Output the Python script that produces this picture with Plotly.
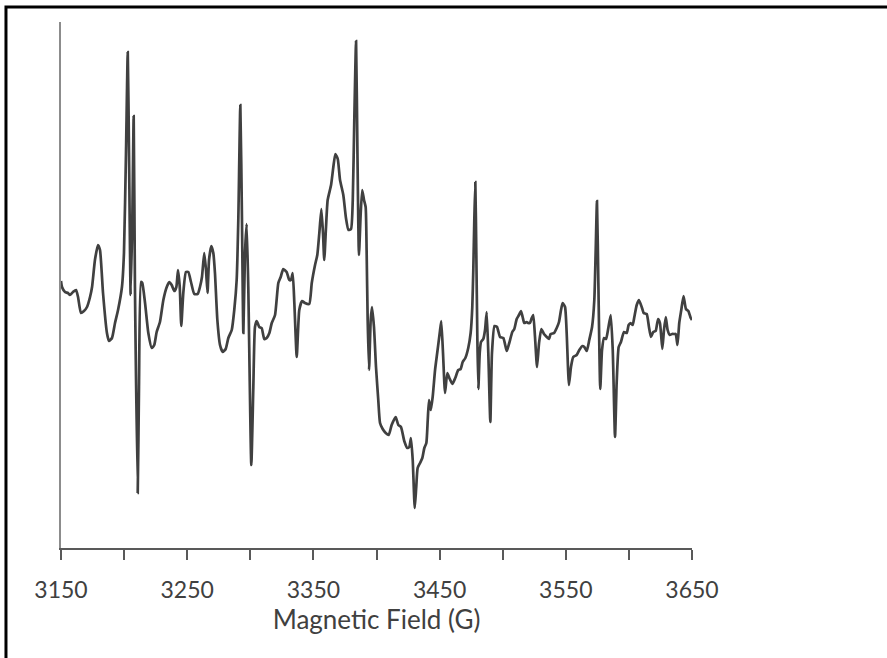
import plotly.graph_objects as go

# Magnetic field (G) and EPR signal (arbitrary units)
field = [3150.0, 3150.8, 3153.2, 3155.5, 3157.1, 3159.5, 3161.9, 3163.5, 3165.8, 3168.2,
         3170.6, 3173.0, 3174.6, 3176.9, 3179.3, 3180.9, 3183.3, 3186.4, 3188.0, 3190.4,
         3192.8, 3195.2, 3198.3, 3199.9, 3201.5, 3202.9, 3203.9, 3205.2, 3206.5, 3207.6,
         3208.6, 3210.8, 3211.8, 3213.4, 3214.4, 3216.6, 3219.2, 3221.9, 3223.9, 3225.8,
         3228.4, 3231.1, 3233.8, 3235.8, 3237.7, 3239.8, 3241.4, 3242.7, 3244.1, 3245.3,
         3246.9, 3249.0, 3250.9, 3253.0, 3255.6, 3258.3, 3260.1, 3261.7, 3263.5, 3264.9,
         3266.1, 3267.3, 3269.1, 3270.7, 3272.0, 3273.9, 3276.0, 3278.1, 3280.5, 3282.6,
         3285.3, 3287.3, 3289.2, 3290.5, 3292.1, 3293.4, 3294.5, 3295.8, 3297.1, 3298.4,
         3300.8, 3302.4, 3303.7, 3305.1, 3307.1, 3309.0, 3311.1, 3313.0, 3315.1, 3317.0,
         3319.6, 3322.2, 3324.1, 3326.1, 3328.8, 3330.9, 3332.2, 3333.6, 3334.9, 3336.8,
         3338.8, 3341.0, 3343.3, 3346.7, 3348.7, 3351.3, 3353.1, 3354.7, 3356.3, 3357.6,
         3358.6, 3360.0, 3361.3, 3364.0, 3365.8, 3367.4, 3369.3, 3371.1, 3373.7, 3375.8,
         3377.8, 3379.8, 3381.2, 3382.4, 3383.8, 3384.9, 3386.1, 3387.5, 3388.7, 3390.1,
         3391.4, 3392.2, 3393.0, 3394.1, 3395.4, 3396.4, 3398.0, 3399.6, 3401.4, 3402.8,
         3404.9, 3407.3, 3409.7, 3412.0, 3415.2, 3417.3, 3419.4, 3422.0, 3424.4, 3426.0,
         3427.3, 3428.7, 3430.3, 3431.5, 3432.6, 3434.5, 3436.3, 3437.9, 3439.5, 3440.6,
         3441.6, 3443.0, 3444.5, 3446.4, 3448.2, 3450.1, 3451.3, 3452.7, 3454.3, 3456.1,
         3457.7, 3460.1, 3462.4, 3464.8, 3466.7, 3468.3, 3470.4, 3472.7, 3474.6, 3475.9,
         3476.7, 3477.5, 3478.3, 3479.1, 3479.9, 3480.7, 3481.8, 3482.8, 3484.6, 3486.0,
         3487.3, 3488.6, 3490.2, 3491.5, 3493.5, 3495.5, 3497.9, 3500.5, 3503.2, 3505.2,
         3507.6, 3509.2, 3511.1, 3512.9, 3514.5, 3515.8, 3517.1, 3519.0, 3520.3, 3521.6,
         3523.0, 3524.2, 3525.6, 3527.2, 3528.8, 3530.6, 3532.7, 3534.9, 3536.7, 3538.0,
         3540.7, 3542.8, 3544.6, 3546.2, 3547.5, 3549.4, 3550.7, 3552.5, 3554.1, 3555.9,
         3558.6, 3560.7, 3563.1, 3564.7, 3566.6, 3568.6, 3570.8, 3572.6, 3573.7, 3574.7,
         3575.8, 3577.3, 3578.7, 3580.3, 3581.9, 3583.7, 3585.6, 3587.2, 3589.0, 3590.3,
         3591.9, 3593.7, 3596.1, 3598.3, 3599.8, 3601.4, 3603.0, 3604.3, 3606.2, 3608.0,
         3610.4, 3611.7, 3614.1, 3615.9, 3617.5, 3619.3, 3621.2, 3623.1, 3624.6, 3626.5,
         3627.8, 3629.2, 3630.7, 3632.4, 3634.2, 3636.0, 3637.1, 3638.5, 3639.9, 3641.5,
         3643.3, 3645.2, 3647.1, 3649.0, 3650.0]

signal = [19, 13, 8, 7, 5, 8, 10, 3, -13, -11,
          -7, 3, 13, 40, 55, 50, 7, -33, -41, -38,
          -23, -10, 13, 47, 147, 248, 147, 5, 80, 184,
          13, -193, -87, 18, 17, -3, -33, -48, -45, -32,
          -22, 0, 13, 18, 15, 9, 13, 30, 13, -26,
          7, 28, 28, 18, 6, 6, 13, 23, 47, 30,
          7, 40, 54, 47, 27, -20, -45, -52, -49, -38,
          -30, -10, 20, 80, 195, 80, -33, 47, 76, 13,
          -165, -87, -27, -21, -27, -28, -39, -38, -33, -23,
          -15, 17, 23, 31, 28, 20, 20, 27, -3, -57,
          -10, -1, -3, -4, 17, 35, 45, 67, 91, 67,
          40, 73, 100, 115, 133, 146, 141, 120, 105, 82,
          70, 71, 100, 180, 259, 147, 45, 87, 110, 100,
          93, 47, -20, -70, -20, -7, -27, -67, -100, -123,
          -129, -133, -135, -125, -117, -125, -127, -141, -148, -147,
          -138, -160, -208, -187, -168, -163, -158, -148, -143, -120,
          -100, -110, -97, -70, -52, -33, -21, -53, -93, -73,
          -78, -84, -78, -70, -69, -62, -58, -48, -33, -7,
          30, 80, 118, 47, -37, -89, -53, -42, -39, -30,
          -12, -53, -122, -53, -26, -27, -37, -38, -51, -43,
          -32, -29, -19, -15, -11, -17, -23, -22, -23, -23,
          -18, -15, -37, -67, -43, -29, -34, -37, -39, -34,
          -33, -28, -22, -10, -3, -7, -33, -85, -67, -57,
          -55, -50, -46, -47, -51, -40, -27, 0, 50, 99,
          17, -89, -50, -38, -39, -28, -15, -50, -137, -83,
          -47, -42, -32, -33, -25, -23, -25, -17, -5, 0,
          -8, -13, -14, -27, -37, -32, -31, -19, -23, -49,
          -30, -17, -30, -35, -34, -34, -34, -45, -23, -10,
          4, -9, -11, -18, -20]

tick_vals = [3150, 3200, 3250, 3300, 3350, 3400, 3450, 3500, 3550, 3600, 3650]
tick_text = ["3150", "", "3250", "", "3350", "", "3450", "", "3550", "", "3650"]
x_title = "Magnetic Field (G)"

FONT = "Lato, 'Open Sans', sans-serif"

fig = go.Figure()
fig.add_trace(go.Scatter(
    x=field, y=signal, mode="lines",
    line=dict(color="#404040", width=2.7, shape="spline", smoothing=0.5),
    showlegend=False, hoverinfo="skip",
))

fig.update_layout(
    width=887, height=658,
    margin=dict(l=61, r=195, t=22, b=110),
    paper_bgcolor="white", plot_bgcolor="white",
    font=dict(family=FONT, color="#404040"),
    xaxis=dict(
        range=[3150, 3650], tickmode="array", tickvals=tick_vals, ticktext=tick_text,
        showgrid=False, zeroline=False, showline=True, linecolor="#595959", linewidth=2,
        ticks="outside", ticklen=10, tickwidth=2, tickcolor="#595959",
        tickfont=dict(family=FONT, size=23, color="#404040"),
        ticklabelstandoff=10,
        title=dict(text=x_title, font=dict(family=FONT, size=26, color="#404040"), standoff=8),
    ),
    yaxis=dict(
        range=[-248, 278], showgrid=False, zeroline=False, showticklabels=False,
        ticks="", showline=True, linecolor="#8c8c8c", linewidth=1.5,
    ),
    shapes=[dict(
        type="rect", xref="paper", yref="paper",
        x0=-0.0872, x1=1.6, y0=-0.5, y1=1.0285,
        line=dict(color="black", width=3), fillcolor="rgba(0,0,0,0)", layer="above",
    )],
)

fig.write_html("out.html")
